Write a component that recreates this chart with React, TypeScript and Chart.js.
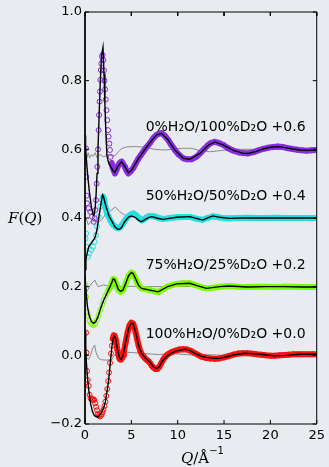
import React, { useEffect, useRef } from 'react';
import { Chart, registerables } from 'chart.js';

Chart.register(...registerables);

type P = [number, number];

// Measured F(Q) with vertical offsets already applied
const purpleData: P[] = [
  [0.1, 0.603], [0.13, 0.52], [0.17, 0.465], [0.22, 0.443], [0.4, 0.428], [0.57, 0.418], [0.75, 0.404], [0.94, 0.389],
  [1.05, 0.399], [1.11, 0.423], [1.19, 0.452], [1.26, 0.5], [1.33, 0.549], [1.4, 0.6], [1.47, 0.656], [1.52, 0.7],
  [1.57, 0.739], [1.61, 0.768], [1.66, 0.802], [1.71, 0.831], [1.76, 0.85], [1.83, 0.87], [1.9, 0.875], [1.98, 0.86],
  [2.04, 0.83], [2.1, 0.8], [2.17, 0.775], [2.24, 0.745], [2.32, 0.714], [2.4, 0.685], [2.48, 0.656], [2.55, 0.637],
  [2.62, 0.617], [2.69, 0.598], [2.77, 0.578], [2.87, 0.56], [3.0, 0.545], [3.23, 0.53], [3.4, 0.54], [3.6, 0.554],
  [3.8, 0.562], [3.95, 0.564], [4.1, 0.558], [4.31, 0.549], [4.5, 0.537], [4.67, 0.53], [4.9, 0.535], [5.2, 0.545],
  [5.45, 0.558], [5.74, 0.572], [6.0, 0.582], [6.28, 0.593], [6.6, 0.605], [7.0, 0.618], [7.35, 0.632], [7.72, 0.642],
  [8.0, 0.646], [8.26, 0.647], [8.6, 0.64], [8.98, 0.627], [9.3, 0.613], [9.7, 0.598], [10.1, 0.585], [10.6, 0.574],
  [11.0, 0.571], [11.5, 0.571], [12.0, 0.578], [12.4, 0.588], [12.9, 0.602], [13.3, 0.613], [13.6, 0.619], [14.0, 0.622],
  [14.4, 0.619], [14.9, 0.613], [15.4, 0.604], [16.0, 0.596], [16.6, 0.591], [17.1, 0.589], [17.6, 0.588], [18.2, 0.592],
  [18.7, 0.597], [19.2, 0.601], [19.8, 0.605], [20.3, 0.607], [20.8, 0.608], [21.3, 0.607], [21.8, 0.604], [22.4, 0.601],
  [22.9, 0.599], [23.4, 0.597], [23.9, 0.596], [24.4, 0.597], [25.0, 0.598],
];
const purpleFit: P[] = [
  [0, 0.62], [0.15, 0.57], [0.3, 0.52], [0.5, 0.47], [0.7, 0.43], [0.9, 0.408], [1.0, 0.41], [1.1, 0.43], [1.2, 0.47],
  [1.3, 0.53], [1.4, 0.6], [1.5, 0.68], [1.6, 0.76], [1.7, 0.83], [1.8, 0.875], [1.94, 0.897], [2.05, 0.82], [2.15, 0.73],
  [2.25, 0.65], [2.37, 0.58], [2.55, 0.56], [2.8, 0.548], [3.05, 0.537], [3.23, 0.533], [3.5, 0.548], [3.95, 0.564],
  [4.3, 0.55], [4.67, 0.532], [5.0, 0.538], [5.4, 0.556], [5.74, 0.572], [6.28, 0.593], [7.0, 0.619], [7.72, 0.642],
  [8.26, 0.646], [8.98, 0.627], [9.7, 0.598], [10.6, 0.574], [11.3, 0.571], [12.4, 0.588], [13.3, 0.612], [14.0, 0.621],
  [14.9, 0.613], [16.0, 0.597], [17.0, 0.589], [17.6, 0.588], [18.5, 0.594], [19.2, 0.601], [20.0, 0.606], [20.8, 0.608],
  [21.6, 0.605], [22.4, 0.601], [23.2, 0.598], [24.0, 0.597], [25.0, 0.598],
];
const purpleDiff: P[] = [
  [0.0, 0.64], [0.1, 0.6], [0.2, 0.575], [0.35, 0.59], [0.5, 0.575], [0.7, 0.585], [0.9, 0.58], [1.1, 0.59], [1.3, 0.575],
  [1.6, 0.585], [2.0, 0.578], [2.5, 0.585], [3.0, 0.58], [3.3, 0.583], [3.6, 0.593], [4.0, 0.603], [4.5, 0.607],
  [5.5, 0.608], [6.5, 0.606], [7.5, 0.6], [8.5, 0.598], [9.5, 0.6], [10.5, 0.603], [11.5, 0.603], [12.5, 0.595],
  [13.5, 0.593], [14.5, 0.596], [16, 0.6], [18, 0.6], [20, 0.6], [22, 0.6], [25, 0.6],
];

const cyanData: P[] = [
  [0.05, 0.34], [0.12, 0.355], [0.22, 0.316], [0.32, 0.287], [0.47, 0.297], [0.68, 0.307], [0.86, 0.316], [1.04, 0.331],
  [1.19, 0.35], [1.29, 0.375], [1.47, 0.404], [1.65, 0.433], [1.83, 0.452], [1.94, 0.462], [2.05, 0.455], [2.19, 0.433],
  [2.37, 0.415], [2.55, 0.404], [2.73, 0.393], [2.91, 0.385], [3.1, 0.378], [3.27, 0.375], [3.45, 0.371], [3.63, 0.37],
  [3.8, 0.373], [3.99, 0.38], [4.17, 0.387], [4.35, 0.394], [4.6, 0.403], [4.89, 0.409], [5.05, 0.412], [5.24, 0.413],
  [5.5, 0.408], [5.78, 0.401], [6.0, 0.395], [6.14, 0.393], [6.35, 0.396], [6.6, 0.401], [6.86, 0.405], [7.1, 0.406],
  [7.4, 0.405], [7.7, 0.403], [7.94, 0.4], [8.4, 0.397], [8.9, 0.399], [9.4, 0.401], [9.9, 0.402], [10.5, 0.403],
  [11.3, 0.403], [12.0, 0.398], [12.7, 0.395], [13.2, 0.4], [13.8, 0.405], [14.4, 0.402], [15.0, 0.399], [15.6, 0.399],
  [16.5, 0.4], [17.5, 0.401], [18.5, 0.4], [19.5, 0.4], [20.5, 0.401], [21.5, 0.4], [22.5, 0.4], [23.5, 0.4],
  [24.5, 0.4], [25.0, 0.4],
];
const cyanFit: P[] = [
  [0, 0.25], [0.1, 0.28], [0.25, 0.3], [0.4, 0.316], [0.65, 0.326], [0.93, 0.336], [1.1, 0.345], [1.29, 0.365],
  [1.45, 0.395], [1.65, 0.428], [1.8, 0.455], [1.9, 0.467], [2.0, 0.462], [2.2, 0.44], [2.37, 0.425], [2.6, 0.405],
  [2.91, 0.39], [3.2, 0.375], [3.5, 0.368], [3.7, 0.367], [3.95, 0.372], [4.3, 0.39], [4.7, 0.403], [5.0, 0.406],
  [5.4, 0.402], [5.8, 0.393], [6.1, 0.389], [6.5, 0.396], [6.9, 0.402], [7.2, 0.404], [7.7, 0.4], [8.4, 0.396],
  [9.1, 0.399], [9.9, 0.402], [11.3, 0.404], [12.0, 0.399], [12.7, 0.394], [13.3, 0.401], [13.8, 0.406], [14.5, 0.402],
  [15.6, 0.399], [17, 0.4], [19, 0.4], [21, 0.4], [23, 0.4], [25, 0.4],
];
const cyanDiff: P[] = [
  [0.1, 0.4], [0.36, 0.38], [0.72, 0.394], [1.0, 0.39], [1.47, 0.389], [1.8, 0.395], [2.2, 0.41], [2.7, 0.42],
  [3.27, 0.432], [3.77, 0.418], [4.3, 0.408], [4.8, 0.405], [5.5, 0.404], [6.5, 0.402], [8, 0.401], [10, 0.4],
  [15, 0.4], [20, 0.4], [25, 0.4],
];

const greenData: P[] = [
  [0.05, 0.205], [0.12, 0.17], [0.22, 0.127], [0.35, 0.115], [0.5, 0.1], [0.65, 0.093], [0.8, 0.09], [0.94, 0.088],
  [1.1, 0.093], [1.29, 0.103], [1.47, 0.117], [1.65, 0.132], [1.85, 0.148], [2.01, 0.161], [2.19, 0.172], [2.37, 0.181],
  [2.55, 0.19], [2.73, 0.2], [2.9, 0.212], [3.05, 0.222], [3.2, 0.22], [3.4, 0.205], [3.6, 0.19], [3.85, 0.185],
  [4.1, 0.19], [4.4, 0.21], [4.7, 0.232], [5.0, 0.241], [5.2, 0.238], [5.5, 0.22], [5.8, 0.203], [6.1, 0.195],
  [6.5, 0.193], [7.0, 0.19], [7.5, 0.186], [7.9, 0.185], [8.4, 0.192], [8.9, 0.2], [9.4, 0.205], [9.9, 0.208],
  [10.5, 0.21], [11.3, 0.21], [12.0, 0.204], [12.6, 0.198], [13.1, 0.195], [13.8, 0.197], [14.5, 0.2], [15.6, 0.202],
  [16.5, 0.2], [17.5, 0.199], [18.5, 0.2], [19.5, 0.2], [20.5, 0.199], [21.5, 0.2], [22.5, 0.2], [23.5, 0.199],
  [24.5, 0.199], [25.0, 0.199],
];
const greenFit: P[] = [
  [0, 0.23], [0.12, 0.185], [0.25, 0.145], [0.45, 0.115], [0.7, 0.098], [0.93, 0.093], [1.15, 0.098], [1.4, 0.112],
  [1.7, 0.138], [2.0, 0.16], [2.37, 0.181], [2.7, 0.2], [2.9, 0.213], [3.05, 0.223], [3.2, 0.22], [3.4, 0.206],
  [3.6, 0.192], [3.85, 0.186], [4.1, 0.19], [4.4, 0.21], [4.7, 0.232], [5.0, 0.241], [5.2, 0.238], [5.5, 0.22],
  [5.8, 0.203], [6.1, 0.195], [7.0, 0.19], [7.9, 0.185], [8.9, 0.2], [9.9, 0.208], [11.3, 0.21], [12.0, 0.204],
  [13.1, 0.195], [14.5, 0.2], [15.6, 0.202], [17.5, 0.199], [19.5, 0.2], [21.5, 0.2], [23.5, 0.199], [25, 0.199],
];
const greenDiff: P[] = [
  [0.05, 0.2], [0.18, 0.185], [0.45, 0.198], [0.72, 0.21], [1.08, 0.219], [1.25, 0.207], [1.43, 0.2], [1.97, 0.205],
  [2.5, 0.202], [3.5, 0.2], [5, 0.201], [7, 0.2], [10, 0.201], [15, 0.2], [20, 0.2], [25, 0.2],
];

const redData: P[] = [
  [0.12, 0.066], [0.15, 0.008], [0.22, -0.046], [0.3, -0.072], [0.4, -0.089], [0.5, -0.115], [0.6, -0.125],
  [0.7, -0.128], [0.8, -0.13], [0.9, -0.128], [1.0, -0.13], [1.1, -0.14], [1.2, -0.15], [1.3, -0.16], [1.4, -0.17],
  [1.5, -0.175], [1.6, -0.178], [1.7, -0.176], [1.8, -0.172], [1.9, -0.165], [2.0, -0.158], [2.1, -0.148],
  [2.2, -0.135], [2.3, -0.118], [2.4, -0.098], [2.5, -0.075], [2.6, -0.05], [2.7, -0.022], [2.8, 0.005], [2.9, 0.028],
  [3.0, 0.048], [3.1, 0.058], [3.2, 0.057], [3.3, 0.048], [3.4, 0.033], [3.5, 0.016], [3.6, 0.002], [3.7, -0.008],
  [3.8, -0.012], [3.9, -0.012], [4.0, -0.008], [4.1, 0.0], [4.2, 0.012], [4.4, 0.04], [4.6, 0.068], [4.8, 0.087],
  [5.0, 0.095], [5.2, 0.092], [5.4, 0.075], [5.6, 0.05], [5.8, 0.027], [6.0, 0.01], [6.2, 0.0], [6.4, -0.006],
  [6.6, -0.012], [6.8, -0.016], [7.0, -0.022], [7.2, -0.03], [7.4, -0.036], [7.6, -0.04], [7.8, -0.04], [8.0, -0.034],
  [8.2, -0.024], [8.4, -0.014], [8.6, -0.006], [8.8, 0.0], [9.0, 0.004], [9.4, 0.01], [9.8, 0.014], [10.2, 0.017],
  [10.6, 0.018], [11.0, 0.017], [11.4, 0.013], [11.8, 0.007], [12.2, 0.001], [12.6, -0.004], [13.0, -0.007],
  [13.5, -0.009], [14.0, -0.01], [14.5, -0.009], [15.0, -0.006], [15.5, -0.002], [16.0, 0.002], [16.5, 0.005],
  [17.0, 0.006], [17.5, 0.006], [18.0, 0.005], [18.5, 0.003], [19.0, 0.002], [19.5, 0.0], [20.0, -0.001],
  [20.5, -0.001], [21.0, 0.0], [21.5, 0.001], [22.0, 0.002], [22.5, 0.003], [23.0, 0.003], [23.5, 0.003],
  [24.0, 0.003], [24.5, 0.003], [25.0, 0.003],
];
const redFit: P[] = [
  [0, 0.07], [0.08, 0.03], [0.15, -0.02], [0.25, -0.06], [0.4, -0.1], [0.6, -0.14], [0.8, -0.163], [1.0, -0.175],
  [1.3, -0.18], [1.5, -0.177], [1.7, -0.17], [1.9, -0.16], [2.05, -0.15], [2.2, -0.135], [2.4, -0.1], [2.55, -0.072],
  [2.7, -0.03], [2.9, 0.025], [3.05, 0.05], [3.15, 0.056], [3.3, 0.048], [3.5, 0.018], [3.7, -0.006], [3.9, -0.012],
  [4.1, -0.002], [4.4, 0.04], [4.7, 0.078], [5.0, 0.094], [5.2, 0.092], [5.5, 0.063], [5.8, 0.027], [6.1, 0.006],
  [6.6, -0.01], [7.0, -0.02], [7.4, -0.034], [7.7, -0.038], [8.0, -0.034], [8.4, -0.014], [8.8, -0.004], [9.4, 0.008],
  [9.9, 0.013], [10.8, 0.018], [11.4, 0.013], [11.85, 0.006], [12.6, -0.003], [13.1, -0.006], [14.0, -0.009],
  [14.5, -0.009], [15.3, -0.004], [16.0, 0.001], [17.2, 0.006], [18.0, 0.005], [18.9, 0.003], [20.3, -0.001],
  [21.7, 0.0], [23.1, 0.003], [25, 0.003],
];
const redDiff: P[] = [
  [0.03, -0.004], [0.4, -0.012], [0.6, 0.0], [0.8, 0.018], [1.04, 0.03], [1.2, 0.008], [1.47, -0.009], [1.8, -0.013],
  [2.3, -0.014], [2.9, -0.012], [3.1, -0.002], [3.5, 0.005], [4.1, 0.01], [4.5, 0.009], [5.2, 0.008], [6.0, 0.006],
  [7.0, 0.004], [8.0, 0.002], [9.0, 0.005], [10.0, 0.004], [11.0, 0.002], [12.0, 0.0], [13.0, 0.002], [15.0, 0.0],
  [17.0, 0.002], [19.0, 0.001], [21.0, 0.0], [23.0, 0.001], [25.0, 0.0],
];

const xTickValues = [0, 5, 10, 15, 20, 25];
const yTickValues = [-0.2, 0, 0.2, 0.4, 0.6, 0.8, 1.0];
const seriesLabels = ['0%H₂O/100%D₂O +0.6', '50%H₂O/50%D₂O +0.4', '75%H₂O/25%D₂O +0.2', '100%H₂O/0%D₂O +0.0'];
const labelF = [0.665, 0.464, 0.263, 0.062];
const labelQ = 23.8;
const X_MIN = 0, X_MAX = 25, Y_MIN = -0.2, Y_MAX = 1.0;
// inward tick length (~4 px) expressed in axis units
const TICK_DX = 0.43;
const TICK_DY = 0.0117;

const BG = '#e8ebef';
const PURPLE = '#8a2be2';
const CYAN = '#22e0e0';
const GREEN = '#7cfc00';
const RED = '#ff1010';
const GRAY = '#8a8a8a';

const toXY = (arr: P[]) => arr.map(([x, y]) => ({ x, y }));

const measured = (arr: P[], color: string, thr: number) => ({
  data: toXY(arr),
  order: 1,
  showLine: true,
  borderWidth: 6,
  borderColor: color,
  borderCapStyle: 'round',
  borderJoinStyle: 'round',
  segment: { borderColor: (ctx: any) => (ctx.p0.parsed.x >= thr ? color : 'rgba(0,0,0,0)') },
  pointRadius: 2.5,
  pointBorderWidth: 1,
  pointBorderColor: color,
  pointBackgroundColor: 'rgba(0,0,0,0)',
  pointStyle: 'circle',
  clip: 0,
});
const fitLine = (arr: P[]) => ({
  data: toXY(arr), order: 0, showLine: true, borderWidth: 1.4, borderColor: '#000', pointRadius: 0, clip: 0,
});
const diffLine = (arr: P[]) => ({
  data: toXY(arr), order: 2, showLine: true, borderWidth: 1, borderColor: GRAY, pointRadius: 0, clip: 0,
});

// axes box and inward ticks, drawn through the chart's scales
const boxData = [
  { x: X_MIN, y: Y_MIN }, { x: X_MAX, y: Y_MIN }, { x: X_MAX, y: Y_MAX }, { x: X_MIN, y: Y_MAX }, { x: X_MIN, y: Y_MIN },
];
const tickData: { x: number; y: number | null }[] = [];
xTickValues.forEach((v) => {
  tickData.push({ x: v, y: Y_MIN }, { x: v, y: Y_MIN + TICK_DY }, { x: v, y: null });
  tickData.push({ x: v, y: Y_MAX }, { x: v, y: Y_MAX - TICK_DY }, { x: v, y: null });
});
yTickValues.forEach((v) => {
  tickData.push({ x: X_MIN, y: v }, { x: X_MIN + TICK_DX, y: v }, { x: X_MIN, y: null });
  tickData.push({ x: X_MAX, y: v }, { x: X_MAX - TICK_DX, y: v }, { x: X_MAX, y: null });
});
const axisLine = (data: any[]) => ({
  data, order: -1, showLine: true, spanGaps: false, borderWidth: 1, borderColor: '#000', pointRadius: 0,
  borderCapStyle: 'butt', borderJoinStyle: 'miter', clip: false,
});

const bgPlugin = {
  id: 'bgfill',
  beforeDraw(chart: any) {
    const c = chart.ctx;
    c.save();
    c.fillStyle = BG;
    c.fillRect(0, 0, chart.width, chart.height);
    c.restore();
  },
};

const textPlugin = {
  id: 'texts',
  afterDraw(chart: any) {
    const ctx = chart.ctx;
    const xs = chart.scales.x;
    const ys = chart.scales.y;
    ctx.save();
    ctx.fillStyle = '#000';
    ctx.font = '14px "DejaVu Sans"';
    ctx.textAlign = 'right';
    ctx.textBaseline = 'middle';
    seriesLabels.forEach((t, i) => {
      ctx.fillText(t, xs.getPixelForValue(labelQ), ys.getPixelForValue(labelF[i]));
    });
    ctx.textAlign = 'left';
    ctx.textBaseline = 'alphabetic';
    const runs = (x: number, y: number, parts: [string, string, number][]) => {
      let cx = x;
      parts.forEach(([txt, font, dy]) => {
        ctx.font = font;
        ctx.fillText(txt, cx, y + dy);
        cx += ctx.measureText(txt).width;
      });
    };
    const it = 'italic 15px "DejaVu Serif"';
    const up = '15px "DejaVu Serif"';
    runs(8, 223, [['F', it, 0], ['(', up, 0], ['Q', it, 0], [')', up, 0]]);
    runs(181, 463, [['Q', it, 0], ['/Å', up, 0], ['−1', '10px "DejaVu Sans"', -9]]);
    ctx.restore();
  },
};

export default function App() {
  const ref = useRef<HTMLCanvasElement | null>(null);
  useEffect(() => {
    document.body.style.margin = '0';
    document.body.style.background = BG;
    const canvas = ref.current!;
    const chart = new Chart(canvas, {
      type: 'scatter',
      data: {
        datasets: [
          axisLine(boxData), axisLine(tickData),
          fitLine(purpleFit), fitLine(cyanFit), fitLine(greenFit), fitLine(redFit),
          measured(purpleData, PURPLE, 2.8), measured(cyanData, CYAN, 1.9),
          measured(greenData, GREEN, 2.5), measured(redData, RED, 3.0),
          diffLine(purpleDiff), diffLine(cyanDiff), diffLine(greenDiff), diffLine(redDiff),
        ] as any,
      },
      options: {
        responsive: false,
        animation: false,
        devicePixelRatio: 1,
        layout: { padding: { left: 0, right: 12, top: 12, bottom: 0 } },
        plugins: { legend: { display: false }, tooltip: { enabled: false } },
        scales: {
          x: {
            type: 'linear', min: X_MIN, max: X_MAX,
            grid: { display: false, drawTicks: false },
            border: { display: false },
            ticks: {
              stepSize: 5, padding: 4, maxRotation: 0, color: '#000',
              font: { family: 'DejaVu Sans', size: 13 },
              callback: (v: any) => String(v),
            },
            afterFit: (s: any) => { s.height = 43; },
          },
          y: {
            type: 'linear', min: Y_MIN, max: Y_MAX,
            grid: { display: false, drawTicks: false },
            border: { display: false },
            ticks: {
              stepSize: 0.2, padding: 3, color: '#000',
              font: { family: 'DejaVu Sans', size: 13 },
              callback: (v: any) => {
                const n = Number(v);
                const s = Math.abs(n).toFixed(1);
                return n < -1e-9 ? '−' + s : s;
              },
            },
            afterFit: (s: any) => { s.width = 85; },
          },
        },
      } as any,
      plugins: [bgPlugin, textPlugin],
    });
    return () => chart.destroy();
  }, []);
  return <canvas ref={ref} width={329} height={467} style={{ display: 'block', width: 329, height: 467 }} />;
}
